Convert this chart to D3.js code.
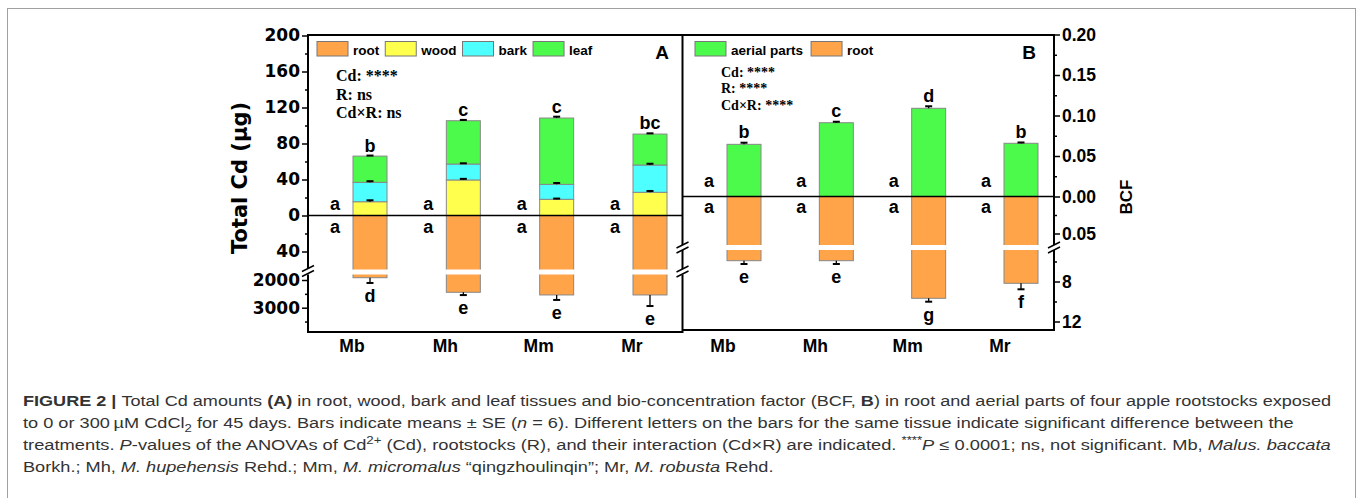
<!DOCTYPE html>
<html>
<head>
<meta charset="utf-8">
<script src="https://cdn.jsdelivr.net/npm/d3@7"></script>
<style>
body { margin: 0; background: #fff; }
</style>
</head>
<body>
<svg id="fig" width="1357" height="498"></svg>
<script>
// ---- DATA ----
var rootstocks = ["Mb", "Mh", "Mm", "Mr"];

// panel A, total Cd (ug)
var woodCd = [15.3, 39.5, 18.0, 25.8];
var barkCd = [21.6, 17.7, 16.6, 30.3];
var leafCd = [29.1, 48.1, 73.7, 34.4];
var woodSE = [1.6, 1.2, 0.8, 1.4];
var barkSE = [1.2, 0.8, 1.5, 1.4];
var leafSE = [0.6, 0.9, 1.5, 0.8];
var rootCd = [1917, 2444, 2540, 2540];
var rootSE = [190, 100, 180, 400];
var lettersAtop = ["b", "c", "c", "bc"];
var lettersAroot = ["d", "e", "e", "e"];
var lettersCtrl = ["a", "a", "a", "a"];

// panel B, BCF
var aerialBCF = [0.0644, 0.0911, 0.1089, 0.0657];
var aerialSE = [0.0020, 0.0012, 0.0025, 0.0010];
var rootBCF = [5.92, 5.92, 9.68, 8.18];
var rootBCFSE = [0.33, 0.33, 0.34, 0.60];
var lettersBtop = ["b", "c", "d", "b"];
var lettersBroot = ["e", "e", "g", "f"];

// tick values
var ticksAup = [0, 40, 80, 120, 160, 200];
var minorAup = [20, 60, 100, 140, 180];
var ticksAneg = [40];
var minorAneg = [20];
var ticksAlow = [2000, 3000];
var minorAlow = [2500, 3500];
var ticksBup = [0, 0.05, 0.10, 0.15, 0.20];
var minorBup = [0.025, 0.075, 0.125, 0.175];
var ticksBneg = [0.05];
var minorBneg = [0.025];
var ticksBlow = [8, 12];
var minorBlow = [6, 10];

var statsA = ["Cd: ****", "R: ns", "Cd\u00d7R: ns"];
var statsB = ["Cd: ****", "R: ****", "Cd\u00d7R: ****"];

var captionLines = [
  [["FIGURE 2 | ", "b"], ["Total Cd amounts ", ""], ["(A)", "b"], [" in root, wood, bark and leaf tissues and bio-concentration factor (BCF, ", ""], ["B", "b"], [") in root and aerial parts of four apple rootstocks exposed", ""]],
  [["to 0 or 300\u2009\u00b5M CdCl", ""], ["2", "sub"], [" for 45 days. Bars indicate means \u00b1 SE (", ""], ["n", "i"], [" = 6). Different letters on the bars for the same tissue indicate significant difference between the", ""]],
  [["treatments. ", ""], ["P", "i"], ["-values of the ANOVAs of Cd", ""], ["2+", "sup"], [" (Cd), rootstocks (R), and their interaction (Cd\u00d7R) are indicated. ", ""], ["****", "sup"], ["P", "i"], [" \u2264 0.0001; ns, not significant. Mb, ", ""], ["Malus. baccata", "i"]],
  [["Borkh.; Mh, ", ""], ["M. hupehensis", "i"], [" Rehd.; Mm, ", ""], ["M. micromalus", "i"], [" \u201cqingzhoulinqin\u201d; Mr, ", ""], ["M. robusta", "i"], [" Rehd.", ""]]
];
var captionWidths = [1310, 1271, 1309, 751];

// ---- STYLE ----
var SANS = '"Liberation Sans", Arial, sans-serif';
var SERIF = '"Liberation Serif", "Times New Roman", serif';
var WIDE = '"DejaVu Sans", Verdana, sans-serif';
var colors = { root: "#FFA448", wood: "#FFFF4D", bark: "#4DFFFF", leaf: "#4CFA4C", aerial: "#4CFA4C" };
var barW = 34;

var svg = d3.select("#fig");

// outer frame of the figure
svg.append("rect")
  .attr("x", 7.5).attr("y", 8.5)
  .attr("width", 1348).attr("height", 530)
  .attr("fill", "none").attr("stroke", "#a0a0a0");

// ---- SCALES ----
var xA = d3.scalePoint().domain(rootstocks).range([370, 650]);
var xB = d3.scalePoint().domain(rootstocks).range([744, 1021]);

var yA = d3.scaleLinear().domain([0, 200]).range([215.5, 35.5]);
var yAneg = d3.scaleLinear().domain([0, 60]).range([215.5, 269.5]);
var yAlow = d3.scaleLinear().domain([2000, 3000]).range([280, 307.7]);
var gapA = [269.5, 274.5];

var yB = d3.scaleLinear().domain([0, 0.2]).range([196.5, 34.5]);
var yBneg = d3.scaleLinear().domain([0, 0.05]).range([196.5, 233.5]);
var yBlow = d3.scaleLinear().domain([8, 12]).range([281.5, 321.5]);
var gapB = [245, 250];

var leftA = 308, midX = 682.5, rightB = 1054;
var topY = 35, bottomA = 332, bottomB = 330;

// ---- helpers ----
function errBar(g, x, y0, y1) {
  g.append("line").attr("x1", x).attr("x2", x).attr("y1", y0).attr("y2", y1)
    .attr("stroke", "#000").attr("stroke-width", 1.3);
  g.append("line").attr("x1", x - 3.5).attr("x2", x + 3.5).attr("y1", y1).attr("y2", y1)
    .attr("stroke", "#000").attr("stroke-width", 2);
}

function letter(g, x, y, t) {
  g.append("text").attr("x", x).attr("y", y).text(t)
    .attr("text-anchor", "middle")
    .attr("font-family", SANS).attr("font-weight", "bold").attr("font-size", 18)
    .attr("fill", "#000");
}

function vline(x, y1, y2) {
  svg.append("line").attr("x1", x).attr("x2", x).attr("y1", y1).attr("y2", y2)
    .attr("stroke", "#000").attr("stroke-width", 2);
}
function hline(y, x1, x2, w) {
  svg.append("line").attr("x1", x1).attr("x2", x2).attr("y1", y).attr("y2", y)
    .attr("stroke", "#000").attr("stroke-width", w || 2);
}
function breakMark(x, y) {
  [-2.5, 2.5].forEach(function (o) {
    svg.append("line")
      .attr("x1", x - 6).attr("y1", y + o + 3)
      .attr("x2", x + 6).attr("y2", y + o - 3)
      .attr("stroke", "#000").attr("stroke-width", 1.5);
  });
}

function styleAxis(g, family, size) {
  g.select(".domain").remove();
  g.selectAll(".tick line").attr("stroke", "#000").attr("stroke-width", 1.5);
  g.selectAll(".tick text")
    .attr("font-family", family).attr("font-size", size)
    .attr("font-weight", "bold").attr("fill", "#000");
}

function addAxis(axis, scale, values, size, fmt, family, fsize) {
  var a = axis(scale).tickValues(values).tickSize(size).tickPadding(2);
  a.tickFormat(fmt ? fmt : function () { return ""; });
  var g = svg.append("g").attr("transform", axis === d3.axisLeft ? "translate(" + leftA + ",0)" : "translate(" + rightB + ",0)").call(a);
  styleAxis(g, family, fsize);
  return g;
}

// ---- PANEL A ----
var gA = svg.append("g");
var tableA = rootstocks.map(function (r, i) {
  return { name: r, wood: woodCd[i], bark: barkCd[i], leaf: leafCd[i] };
});
var seA = { wood: woodSE, bark: barkSE, leaf: leafSE };
var stackA = d3.stack().keys(["wood", "bark", "leaf"])(tableA);

// root bars (downwards, broken scale)
rootstocks.forEach(function (r, i) {
  var x = xA(r);
  gA.append("rect")
    .attr("x", x - barW / 2).attr("y", yA(0))
    .attr("width", barW).attr("height", yAlow(rootCd[i]) - yA(0))
    .attr("fill", colors.root).attr("stroke", "#888").attr("stroke-width", 1);
  gA.append("rect")
    .attr("x", x - barW / 2 - 1).attr("y", gapA[0])
    .attr("width", barW + 2).attr("height", gapA[1] - gapA[0])
    .attr("fill", "#fff");
  errBar(gA, x, yAlow(rootCd[i]), yAlow(rootCd[i] + rootSE[i]));
});

// stacked aerial tissues
stackA.forEach(function (layer) {
  gA.selectAll("rect." + layer.key)
    .data(layer)
    .enter()
    .append("rect")
    .attr("class", layer.key)
    .attr("x", function (d) { return xA(d.data.name) - barW / 2; })
    .attr("y", function (d) { return yA(d[1]); })
    .attr("width", barW)
    .attr("height", function (d) { return yA(d[0]) - yA(d[1]); })
    .attr("fill", colors[layer.key])
    .attr("stroke", "#888").attr("stroke-width", 1);
});
stackA.forEach(function (layer) {
  layer.forEach(function (d, i) {
    var x = xA(d.data.name);
    errBar(gA, x, yA(d[1]), yA(d[1] + seA[layer.key][i]));
  });
});

rootstocks.forEach(function (r, i) {
  var x = xA(r);
  var topVal = woodCd[i] + barkCd[i] + leafCd[i] + leafSE[i];
  letter(gA, x, yA(topVal) - 4, lettersAtop[i]);
  letter(gA, x, yAlow(rootCd[i] + rootSE[i]) + 19, lettersAroot[i]);
  letter(gA, x - 35, yA(0) - 6, lettersCtrl[i]);
  letter(gA, x - 35, yA(0) + 17.5, lettersCtrl[i]);
  gA.append("text").attr("x", x - 18).attr("y", 352).text(r)
    .attr("text-anchor", "middle")
    .attr("font-family", SANS).attr("font-weight", "bold").attr("font-size", 17.5);
});

// ---- PANEL B ----
var gB = svg.append("g");
rootstocks.forEach(function (r, i) {
  var x = xB(r);
  gB.append("rect")
    .attr("x", x - barW / 2).attr("y", yB(0))
    .attr("width", barW).attr("height", yBlow(rootBCF[i]) - yB(0))
    .attr("fill", colors.root).attr("stroke", "#888").attr("stroke-width", 1);
  gB.append("rect")
    .attr("x", x - barW / 2 - 1).attr("y", gapB[0])
    .attr("width", barW + 2).attr("height", gapB[1] - gapB[0])
    .attr("fill", "#fff");
  errBar(gB, x, yBlow(rootBCF[i]), yBlow(rootBCF[i] + rootBCFSE[i]));

  gB.append("rect")
    .attr("x", x - barW / 2).attr("y", yB(aerialBCF[i]))
    .attr("width", barW).attr("height", yB(0) - yB(aerialBCF[i]))
    .attr("fill", colors.aerial).attr("stroke", "#888").attr("stroke-width", 1);
  errBar(gB, x, yB(aerialBCF[i]), yB(aerialBCF[i] + aerialSE[i]));

  letter(gB, x, yB(aerialBCF[i] + aerialSE[i]) - 4.5, lettersBtop[i]);
  letter(gB, x, yBlow(rootBCF[i] + rootBCFSE[i]) + 19, lettersBroot[i]);
  letter(gB, x - 35, yB(0) - 9.5, lettersCtrl[i]);
  letter(gB, x - 35, yB(0) + 16, lettersCtrl[i]);
  gB.append("text").attr("x", x - 21).attr("y", 352).text(r)
    .attr("text-anchor", "middle")
    .attr("font-family", SANS).attr("font-weight", "bold").attr("font-size", 17.5);
});

// zero lines
hline(yA(0), leftA, midX, 1.6);
hline(yB(0), midX, rightB, 1.6);

// ---- FRAMES ----
hline(topY, leftA, rightB);
hline(bottomA, leftA, midX);
hline(bottomB, midX, rightB);
vline(leftA, topY - 1, 268);
vline(leftA, 274.5, bottomA + 1);
breakMark(leftA, 271);
vline(midX, topY - 1, 245);
vline(midX, 250, 269);
vline(midX, 274.5, bottomA + 1);
breakMark(midX, 247.5);
breakMark(midX, 271.5);
vline(rightB, topY - 1, 245);
vline(rightB, 250, bottomB + 1);
breakMark(rightB, 247.5);

// ---- AXES ----
var fmtInt = d3.format("d");
var fmt2 = d3.format(".2f");
addAxis(d3.axisLeft, yA, ticksAup, 6, fmtInt, WIDE, 17);
addAxis(d3.axisLeft, yA, minorAup, 3, null, WIDE, 17);
addAxis(d3.axisLeft, yAneg, ticksAneg, 6, fmtInt, WIDE, 17);
addAxis(d3.axisLeft, yAneg, minorAneg, 3, null, WIDE, 17);
addAxis(d3.axisLeft, yAlow, ticksAlow, 6, fmtInt, WIDE, 17);
addAxis(d3.axisLeft, yAlow, minorAlow, 3, null, WIDE, 17);

addAxis(d3.axisRight, yB, ticksBup, 6, fmt2, SANS, 17.5);
addAxis(d3.axisRight, yB, minorBup, 3, null, SANS, 17.5);
addAxis(d3.axisRight, yBneg, ticksBneg, 6, fmt2, SANS, 17.5);
addAxis(d3.axisRight, yBneg, minorBneg, 3, null, SANS, 17.5);
addAxis(d3.axisRight, yBlow, ticksBlow, 6, fmtInt, SANS, 17.5);
addAxis(d3.axisRight, yBlow, minorBlow, 3, null, SANS, 17.5);

// axis titles
svg.append("text")
  .attr("transform", "translate(247,178) rotate(-90)")
  .attr("text-anchor", "middle")
  .attr("font-family", WIDE).attr("font-weight", "bold").attr("font-size", 21)
  .text("Total Cd (\u00b5g)");
svg.append("text")
  .attr("transform", "translate(1132,197) rotate(-90)")
  .attr("text-anchor", "middle")
  .attr("font-family", SANS).attr("font-weight", "bold").attr("font-size", 17)
  .text("BCF");

// panel letters
svg.append("text").attr("x", 662).attr("y", 58.5).text("A")
  .attr("text-anchor", "middle").attr("font-family", SANS).attr("font-weight", "bold").attr("font-size", 19);
svg.append("text").attr("x", 1029).attr("y", 58.5).text("B")
  .attr("text-anchor", "middle").attr("font-family", SANS).attr("font-weight", "bold").attr("font-size", 19);

// ---- LEGENDS ----
function legend(items, x0, gap) {
  var x = x0;
  items.forEach(function (it) {
    svg.append("rect").attr("x", x).attr("y", 41.5).attr("width", 31).attr("height", 14.5)
      .attr("fill", colors[it.key]).attr("stroke", "#777").attr("stroke-width", 1);
    var t = svg.append("text").attr("x", x + 36).attr("y", 54.5).text(it.label)
      .attr("font-family", SANS).attr("font-weight", "bold").attr("font-size", 13.5);
    x = x + 36 + t.node().getComputedTextLength() + gap;
  });
}
legend([{ key: "root", label: "root" }, { key: "wood", label: "wood" }, { key: "bark", label: "bark" }, { key: "leaf", label: "leaf" }], 317, 6);
legend([{ key: "aerial", label: "aerial parts" }, { key: "root", label: "root" }], 695, 8);

// ---- ANOVA stats ----
statsA.forEach(function (s, i) {
  svg.append("text").attr("x", 336).attr("y", 81 + i * 18.5).text(s)
    .attr("font-family", SERIF).attr("font-weight", "bold").attr("font-size", 16);
});
statsB.forEach(function (s, i) {
  svg.append("text").attr("x", 721).attr("y", 76.7 + i * 16.7).text(s)
    .attr("font-family", SERIF).attr("font-weight", "bold").attr("font-size", 14);
});

// ---- CAPTION ----
captionLines.forEach(function (segs, li) {
  var t = svg.append("text")
    .attr("font-family", SANS).attr("font-size", 14.5).attr("fill", "#333");
  var shift = 0;
  segs.forEach(function (s) {
    var ts = t.append("tspan").text(s[0]);
    var dy = 0;
    if (s[1] === "b") ts.attr("font-weight", "bold");
    if (s[1] === "i") ts.attr("font-style", "italic");
    if (s[1] === "sub") { ts.attr("font-size", 10.5); dy = 4; }
    if (s[1] === "sup") { ts.attr("font-size", 10.5); dy = -6; }
    ts.attr("dy", dy - shift);
    shift = dy;
  });
  var len = t.node().getComputedTextLength();
  var sx = captionWidths[li] / len;
  t.attr("transform", "translate(23," + (406 + li * 22) + ") scale(" + sx + ",1)");
});
</script>
</body>
</html>
